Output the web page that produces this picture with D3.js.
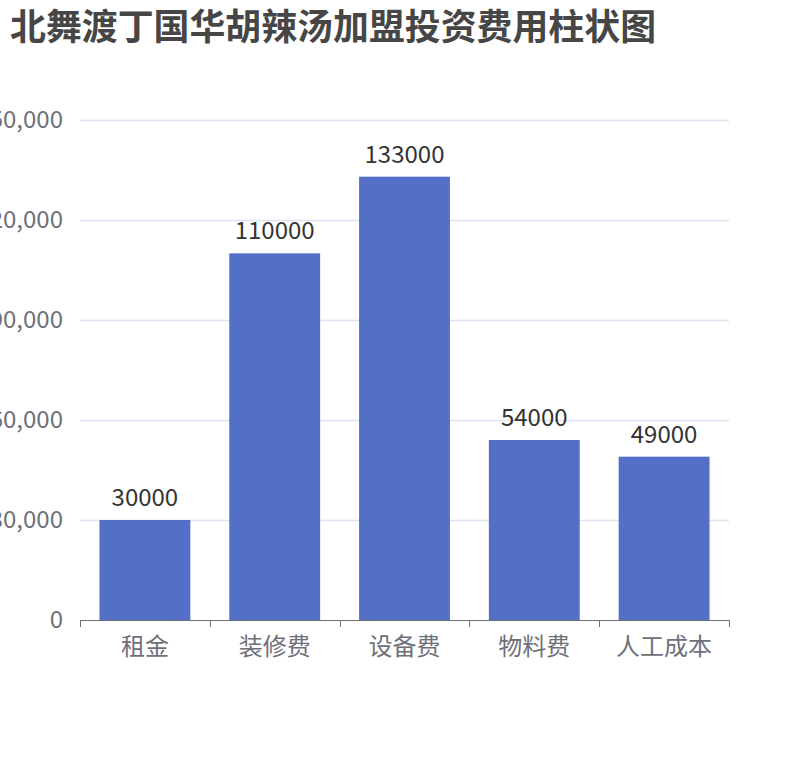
<!DOCTYPE html>
<html>
<head>
<meta charset="utf-8">
<script src="https://cdn.jsdelivr.net/npm/d3@7"></script>
<style>
  body { margin: 0; background: #fff; }
  svg { font-family: "Noto Sans CJK SC", "Noto Sans", sans-serif; }
</style>
</head>
<body>
<div id="chart"></div>
<script>
var categories = ["租金", "装修费", "设备费", "物料费", "人工成本"];
var costs = [30000, 110000, 133000, 54000, 49000];
var yTicks = [0, 30000, 60000, 90000, 120000, 150000];
var chartTitle = "北舞渡丁国华胡辣汤加盟投资费用柱状图";

var svgWidth = 810;
var svgHeight = 760;

var margin = {
    top: 120,
    bottom: 140,
    left: 80,
    right: 81
};

var width = svgWidth - margin.left - margin.right;
var height = svgHeight - margin.top - margin.bottom;

var svg = d3.select("#chart")
    .append("svg")
    .attr("width", svgWidth)
    .attr("height", svgHeight);

svg.append("text")
    .attr("x", 10)
    .attr("y", 40)
    .attr("font-size", "35.9px")
    .attr("font-weight", "bold")
    .attr("fill", "#464646")
    .text(chartTitle);

var chartGroup = svg.append("g")
    .attr("transform", `translate(${margin.left}, ${margin.top})`);

var xScale = d3.scaleBand()
    .domain(categories)
    .range([0, width])
    .paddingInner(0.3)
    .paddingOuter(0.15);

var yScale = d3.scaleLinear()
    .domain([0, 150000])
    .range([height, 0]);

// grid lines
chartGroup.selectAll(".grid")
    .data(yTicks.slice(1))
    .enter()
    .append("line")
    .attr("x1", 0)
    .attr("x2", width)
    .attr("y1", d => Math.round(yScale(d)) + 0.5)
    .attr("y2", d => Math.round(yScale(d)) + 0.5)
    .attr("stroke", "#DDE3F0")
    .attr("stroke-width", 1.4);

// y labels
var leftAxis = d3.axisLeft(yScale)
    .tickValues(yTicks)
    .tickSize(0)
    .tickPadding(17)
    .tickFormat(d3.format(","));

var yAxisG = chartGroup.append("g").call(leftAxis);
yAxisG.select(".domain").remove();
yAxisG.selectAll("text")
    .attr("font-size", "24px")
    .attr("font-family", "\"Noto Sans CJK SC\", sans-serif")
    .attr("fill", "#6E7079");

// bars
chartGroup.selectAll(".bar")
    .data(costs)
    .enter()
    .append("rect")
    .attr("x", (d, i) => xScale(categories[i]))
    .attr("y", d => yScale(d))
    .attr("width", xScale.bandwidth())
    .attr("height", d => height - yScale(d))
    .attr("fill", "#5470C6");

// value labels
chartGroup.selectAll(".val")
    .data(costs)
    .enter()
    .append("text")
    .attr("x", (d, i) => xScale(categories[i]) + xScale.bandwidth() / 2)
    .attr("y", d => yScale(d) - 14)
    .attr("text-anchor", "middle")
    .attr("font-size", "24px")
    .attr("fill", "#333")
    .text(d => d);

// x axis
var bottomAxis = d3.axisBottom(xScale)
    .tickSize(0);

var xAxisG = chartGroup.append("g")
    .attr("transform", `translate(0, ${height})`)
    .call(bottomAxis);
xAxisG.select(".domain")
    .attr("stroke", "#6E7079")
    .attr("d", `M0.5,0.5H${width}`);
xAxisG.selectAll("text")
    .attr("y", 35)
    .attr("dy", null)
    .attr("font-size", "24px")
    .attr("font-family", "\"Noto Sans CJK SC\", sans-serif")
    .attr("fill", "#6E7079");

// tick marks at band boundaries
var step = width / categories.length;
xAxisG.selectAll(".boundary")
    .data(d3.range(categories.length + 1))
    .enter()
    .append("line")
    .attr("x1", d => Math.round(d * step) + 0.5)
    .attr("x2", d => Math.round(d * step) + 0.5)
    .attr("y1", 0)
    .attr("y2", 7)
    .attr("stroke", "#6E7079");
</script>
</body>
</html>
